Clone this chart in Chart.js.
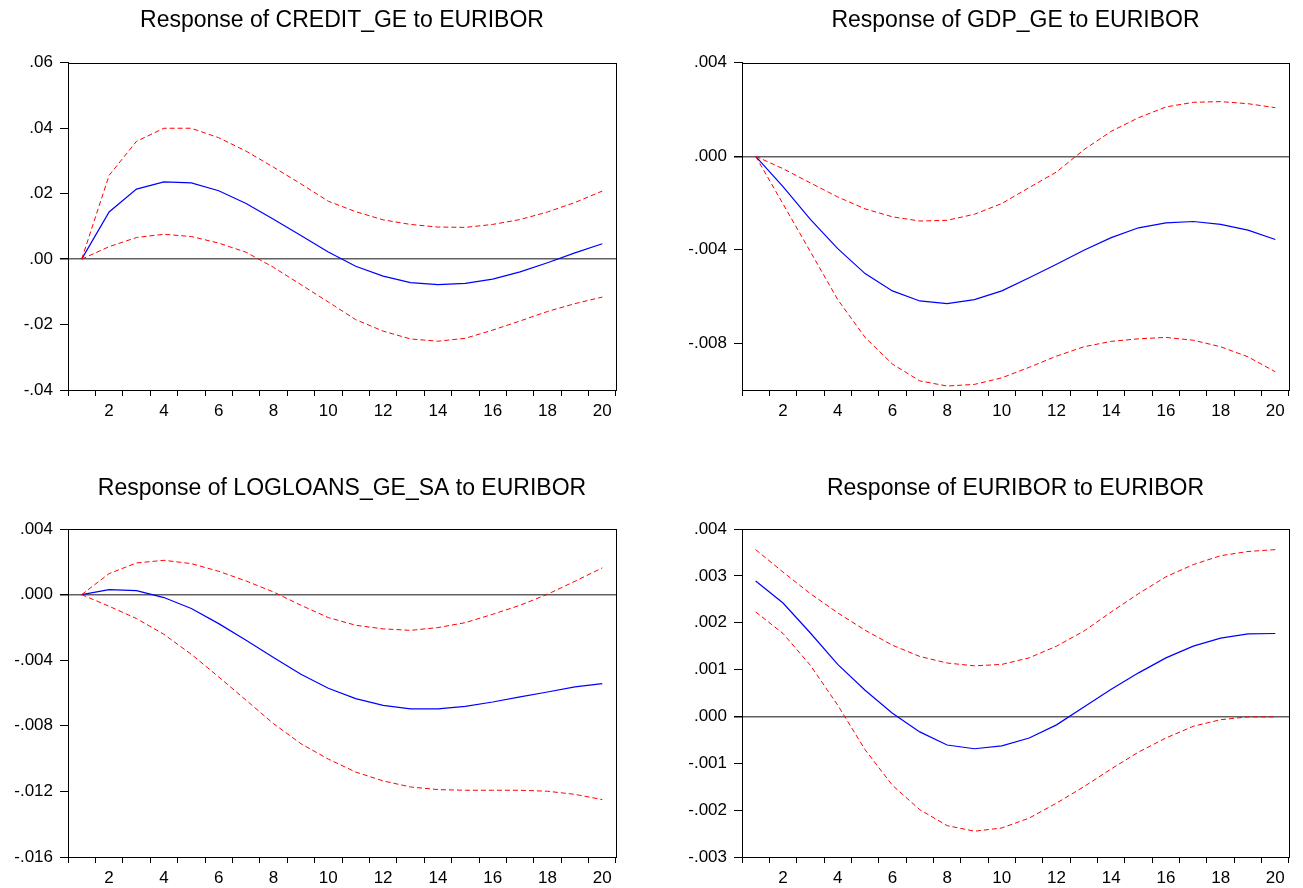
<!DOCTYPE html>
<html>
<head>
<meta charset="utf-8">
<script src="https://cdn.jsdelivr.net/npm/chart.js@4.4.1/dist/chart.umd.min.js"></script>
<style>
  body { margin: 0; background: #fff; }
  #page { position: relative; width: 1303px; height: 888px; }
  .panel { position: absolute; }
</style>
</head>
<body>
<div id="page">
  <div class="panel" style="left:0;top:0;width:651px;height:444px"><canvas id="creditChart"></canvas></div>
  <div class="panel" style="left:651px;top:0;width:652px;height:444px"><canvas id="gdpChart"></canvas></div>
  <div class="panel" style="left:0;top:444px;width:651px;height:444px"><canvas id="loansChart"></canvas></div>
  <div class="panel" style="left:651px;top:444px;width:652px;height:444px"><canvas id="euriborChart"></canvas></div>
</div>
<script>
"use strict";

const periods = [1, 2, 3, 4, 5, 6, 7, 8, 9, 10, 11, 12, 13, 14, 15, 16, 17, 18, 19, 20];

// Response of CREDIT_GE to EURIBOR
const creditResp  = [0, 0.0144, 0.0214, 0.0236, 0.0233, 0.0209, 0.0170, 0.0122, 0.0072, 0.0022, -0.0022, -0.0052, -0.0072, -0.0078, -0.0074, -0.0061, -0.0039, -0.0011, 0.0019, 0.0047];
const creditUpper = [0, 0.0256, 0.0360, 0.0400, 0.0400, 0.0371, 0.0330, 0.0281, 0.0230, 0.0177, 0.0145, 0.0120, 0.0106, 0.0098, 0.0097, 0.0106, 0.0121, 0.0144, 0.0173, 0.0208];
const creditLower = [0, 0.0038, 0.0066, 0.0076, 0.0069, 0.0049, 0.0021, -0.0025, -0.0078, -0.0131, -0.0185, -0.0220, -0.0244, -0.0251, -0.0242, -0.0217, -0.0189, -0.0160, -0.0136, -0.0116];
const creditTicks = [-0.04, -0.02, 0, 0.02, 0.04, 0.06];

// Response of GDP_GE to EURIBOR
const gdpResp  = [0, -0.0013, -0.0027, -0.00395, -0.00502, -0.00576, -0.00619, -0.0063, -0.00613, -0.00576, -0.0052, -0.00462, -0.00402, -0.00348, -0.00306, -0.00285, -0.00279, -0.00291, -0.00316, -0.00356];
const gdpUpper = [0, -0.00053, -0.00114, -0.00174, -0.00225, -0.00259, -0.00277, -0.00274, -0.00248, -0.00202, -0.00134, -0.00067, 0.00028, 0.00107, 0.00165, 0.00211, 0.00231, 0.00234, 0.00225, 0.00208];
const gdpLower = [0, -0.00204, -0.00408, -0.00613, -0.00775, -0.00889, -0.00961, -0.00983, -0.00976, -0.00948, -0.00903, -0.00855, -0.00815, -0.00792, -0.00781, -0.00775, -0.00787, -0.00815, -0.00858, -0.00922];
const gdpTicks = [-0.008, -0.004, 0, 0.004];

// Response of LOGLOANS_GE_SA to EURIBOR
const loansResp  = [0, 0.0003, 0.00024, -0.00018, -0.00085, -0.00177, -0.00279, -0.00384, -0.00486, -0.00571, -0.00634, -0.00675, -0.00697, -0.00697, -0.00681, -0.00655, -0.00624, -0.00594, -0.00563, -0.00543];
const loansUpper = [0, 0.00128, 0.00193, 0.00209, 0.00189, 0.00142, 0.00083, 0.00016, -0.00065, -0.0014, -0.00187, -0.00209, -0.00218, -0.00201, -0.00171, -0.0012, -0.00065, 0.00002, 0.00081, 0.00163];
const loansLower = [0, -0.00071, -0.00146, -0.00242, -0.00364, -0.00502, -0.00644, -0.00787, -0.00909, -0.01003, -0.01082, -0.01136, -0.01173, -0.01189, -0.01193, -0.01193, -0.01193, -0.01199, -0.01218, -0.0125];
const loansTicks = [-0.016, -0.012, -0.008, -0.004, 0, 0.004];

// Response of EURIBOR to EURIBOR
const euriborResp  = [0.00289, 0.00242, 0.00178, 0.00111, 0.00056, 0.00007, -0.00033, -0.00061, -0.00069, -0.00063, -0.00046, -0.00018, 0.0002, 0.00058, 0.00093, 0.00125, 0.0015, 0.00167, 0.00176, 0.00177];
const euriborUpper = [0.00356, 0.00308, 0.00262, 0.00221, 0.00184, 0.00152, 0.00128, 0.00114, 0.00108, 0.00111, 0.00125, 0.0015, 0.00182, 0.00223, 0.00262, 0.00298, 0.00324, 0.00343, 0.00352, 0.00356];
const euriborLower = [0.00223, 0.00177, 0.00109, 0.00024, -0.00071, -0.00147, -0.00199, -0.00233, -0.00245, -0.00238, -0.00217, -0.00185, -0.0015, -0.00112, -0.00076, -0.00046, -0.00021, -0.00007, -0.00001, -0.00001];
const euriborTicks = [-0.003, -0.002, -0.001, 0, 0.001, 0.002, 0.003, 0.004];

Chart.defaults.font.family = "'Liberation Sans', Arial, sans-serif";
Chart.defaults.color = "#000";

// box around the plot area, like EViews
const frame = {
  id: "frame",
  afterDraw(chart) {
    const a = chart.chartArea;
    const ctx = chart.ctx;
    ctx.save();
    ctx.strokeStyle = "#000";
    ctx.lineWidth = 1;
    ctx.strokeRect(Math.round(a.left) + 0.5, Math.round(a.top) + 0.5,
      Math.round(a.right - a.left), Math.round(a.bottom - a.top));
    ctx.restore();
  }
};

function fmt(v, dec) {
  return v.toFixed(dec).replace(/^(-?)0\./, "$1.");
}

function makeChart(id, title, resp, upper, lower, ticks, min, max, dec, yWidth, rightPad, titlePad, xHeight) {
  new Chart(document.getElementById(id), {
    type: "line",
    data: {
      labels: periods,
      datasets: [
        { data: upper, borderColor: "#ff0000", borderWidth: 1, borderDash: [5, 3], pointRadius: 0, tension: 0 },
        { data: lower, borderColor: "#ff0000", borderWidth: 1, borderDash: [5, 3], pointRadius: 0, tension: 0 },
        { data: resp, borderColor: "#0000ff", borderWidth: 1.2, pointRadius: 0, tension: 0 },
      ],
    },
    options: {
      responsive: true,
      maintainAspectRatio: false,
      animation: false,
      layout: { padding: { left: 0, right: rightPad, top: 0, bottom: 0 } },
      plugins: {
        legend: { display: false },
        tooltip: { enabled: false },
        title: {
          display: true,
          text: title,
          fullSize: false,
          color: "#000",
          font: { size: 23, weight: "normal" },
          padding: titlePad,
        },
      },
      scales: {
        x: {
          type: "category",
          offset: true,
          afterFit(s) { s.height = xHeight; },
          grid: { offset: true, drawOnChartArea: false, drawTicks: true, tickLength: 6, tickColor: "#000" },
          border: { display: true, color: "#000" },
          ticks: {
            autoSkip: false,
            maxRotation: 0,
            padding: 5,
            font: { size: 17 },
            callback(val, i) { return periods[i] % 2 === 0 ? String(periods[i]) : ""; },
          },
        },
        y: {
          min: min,
          max: max,
          afterFit(s) { s.width = yWidth; },
          afterBuildTicks(s) { s.ticks = ticks.map(v => ({ value: v })); },
          grid: {
            drawTicks: true,
            tickLength: 8,
            tickColor: "#000",
            color: c => (c.tick && c.tick.value === 0 ? "#606060" : "rgba(0,0,0,0)"),
            lineWidth: c => (c.tick && c.tick.value === 0 ? 1.5 : 1),
          },
          border: { display: true, color: "#000" },
          ticks: {
            padding: 7,
            font: { size: 17 },
            callback: v => fmt(v, dec),
          },
        },
      },
    },
    plugins: [frame],
  });
}

makeChart("creditChart", "Response of CREDIT_GE to EURIBOR", creditResp, creditUpper, creditLower,
  creditTicks, -0.04, 0.06, 2, 68, 35, { top: 7, bottom: 28.2 }, 54);
makeChart("gdpChart", "Response of GDP_GE to EURIBOR", gdpResp, gdpUpper, gdpLower,
  gdpTicks, -0.010, 0.004, 3, 91, 14, { top: 7, bottom: 28.2 }, 54);
makeChart("loansChart", "Response of LOGLOANS_GE_SA to EURIBOR", loansResp, loansUpper, loansLower,
  loansTicks, -0.016, 0.004, 3, 68, 35, { top: 31, bottom: 26.4 }, 31);
makeChart("euriborChart", "Response of EURIBOR to EURIBOR", euriborResp, euriborUpper, euriborLower,
  euriborTicks, -0.003, 0.004, 3, 91, 14, { top: 31, bottom: 26.4 }, 31);
</script>
</body>
</html>
